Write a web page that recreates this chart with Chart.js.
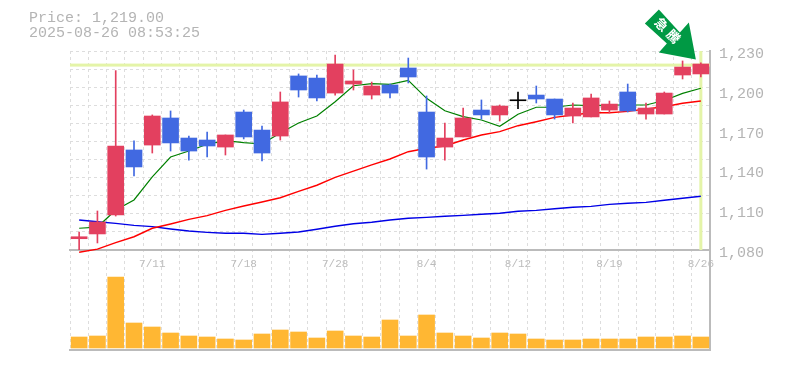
<!DOCTYPE html>
<html>
<head>
<meta charset="utf-8">
<style>
html, body { margin: 0; padding: 0; background: #fff; }
canvas { display: block; }
</style>
<script src="https://cdn.jsdelivr.net/npm/chart.js@4/dist/chart.umd.min.js"></script>
</head>
<body>
<canvas id="myChart" width="785" height="370"></canvas>
<script>
const dates = ['7/7','7/8','7/9','7/10','7/11','7/14','7/15','7/16','7/17','7/18','7/22','7/23','7/24','7/25','7/28','7/29','7/30','7/31','8/1','8/4','8/5','8/6','8/7','8/8','8/12','8/13','8/14','8/15','8/18','8/19','8/20','8/21','8/22','8/25','8/26'];
const shownDates = ['7/11','7/18','7/28','8/4','8/12','8/19','8/26'];
const priceTicks = [1230, 1200, 1170, 1140, 1110, 1080];

const opens  = [1088.5,1092.1,1106.4,1155.4,1159.1,1179.5,1164.4,1162.9,1157.6,1184,1170.4,1165.9,1211.2,1209.6,1198.3,1205.1,1196.8,1204.4,1217.2,1184,1157.6,1165.2,1185.5,1181.8,1192.5,1196.8,1193.8,1181,1180.3,1185.5,1199.1,1182.5,1182.5,1211.9,1212.7];
const closes = [1090,1101.1,1158.4,1142.6,1181,1160.7,1154.6,1158.4,1166.7,1165.2,1153.1,1191.6,1200.6,1194.6,1220.2,1207.4,1203.6,1198.3,1210.4,1150.1,1164.4,1179.5,1181.8,1188.5,1192.5,1193.8,1181.8,1187,1194.6,1190,1184.8,1187,1198.3,1217.9,1220.2];
const highs  = [1093.6,1109.4,1215.2,1162.2,1181.8,1184.8,1165.9,1168.9,1166.7,1185.5,1173.5,1199.1,1212.7,1211.9,1227,1215.7,1206.6,1205.1,1224.7,1196.1,1175.7,1187,1193.1,1189.3,1199.1,1203.6,1193.8,1190.8,1197.6,1192.3,1205.1,1190.8,1199.1,1222.5,1221];
const lows   = [1080,1085.3,1105.6,1135.8,1153.1,1154.6,1147.8,1150.1,1151.6,1163.7,1147.1,1162.9,1195.3,1192.3,1196.8,1200.6,1193.8,1194.6,1205.9,1141,1147.8,1165.2,1178.7,1177.2,1186.5,1190.8,1178.7,1175.7,1180.3,1183.3,1184,1178.7,1182.5,1208.9,1210.4];
const candleColors = ['#e3405f','#e3405f','#e3405f','#4169e1','#e3405f','#4169e1','#4169e1','#4169e1','#e3405f','#4169e1','#4169e1','#e3405f','#4169e1','#4169e1','#e3405f','#e3405f','#e3405f','#4169e1','#4169e1','#4169e1','#e3405f','#e3405f','#4169e1','#e3405f','#000000','#4169e1','#4169e1','#e3405f','#e3405f','#e3405f','#4169e1','#e3405f','#e3405f','#e3405f','#e3405f'];

const ma5  = [1096.4,1097.3,1110.1,1117.7,1135.2,1150.1,1154.6,1159.7,1162.4,1160.9,1159.9,1168.2,1175.7,1181,1191.8,1203.8,1205.4,1204.9,1207.9,1194.3,1185,1180.5,1178,1173.2,1182.3,1187.6,1187.6,1189.3,1188.8,1189.3,1189.3,1189.3,1192.7,1198.1,1201.9];
const ma25 = [1078.3,1080.7,1085.5,1090,1096.4,1099.6,1103.1,1105.9,1109.9,1113.2,1116.2,1119.4,1124.2,1128.8,1134.8,1139.5,1144.1,1148.6,1154.1,1156.7,1158.4,1162.9,1166.7,1169.2,1173.7,1176.7,1180,1181.8,1183.5,1183.5,1184.5,1186.3,1188,1190.6,1192.3];
const ma75 = [1102.6,1101.3,1100.1,1098.6,1097.6,1095.8,1094.3,1093.3,1092.6,1092.6,1091.8,1092.6,1093.6,1095.6,1097.9,1099.8,1100.9,1102.6,1103.9,1104.6,1105.4,1106.1,1106.9,1107.7,1109.2,1109.9,1111.1,1112.2,1112.9,1114.4,1115.2,1115.9,1117.5,1119,1120.5];

const volumes = [11,12,71,25,21,15,12,11,9,8,14,18,16,10,17,12,11,28,12,33,15,12,10,15,14,9,8,8,9,9,9,11,11,12,11];
const currentPrice = 1219;
const title = ['Price: 1,219.00', '2025-08-26 08:53:25'];
const badge = ['急', '騰'];

const monoFont = '"Liberation Mono", monospace';

// current price lines go under the candles
const priceLines = {
    id: 'priceLines',
    beforeDatasetsDraw(chart) {
        const { ctx, chartArea, scales } = chart;
        const y = scales.y.getPixelForValue(currentPrice);
        const x = scales.x.getPixelForValue(dates.length - 1);
        ctx.save();
        ctx.fillStyle = '#e4f4a8';
        ctx.fillRect(chartArea.left, y - 2, chartArea.width, 3);
        ctx.fillRect(x - 1.5, scales.y.top, 3, scales.y.height);
        ctx.restore();
    }
};

// title, price labels and the arrow stuck on the last candle
const overlay = {
    id: 'overlay',
    afterDraw(chart) {
        const { ctx, scales } = chart;
        ctx.save();
        ctx.fillStyle = '#b4b4b4';
        ctx.font = '15px ' + monoFont;
        ctx.textBaseline = 'middle';
        ctx.fillText(title[0], 29, 18);
        ctx.fillText(title[1], 29, 33);

        priceTicks.forEach(p => {
            const label = p.toLocaleString('en-US');
            ctx.fillText(label, scales.y.left + 9, scales.y.getPixelForValue(p) + 3);
        });

        const tipX = scales.x.getPixelForValue(dates.length - 1) - 5;
        const tipY = scales.y.getPixelForValue(currentPrice) - 6;
        const arrow = [[0,0],[-7,-37],[-16,-27],[-37,-50],[-51,-36],[-29,-16],[-37,-7]];
        ctx.fillStyle = '#009944';
        ctx.beginPath();
        arrow.forEach((p, i) => {
            if (i === 0) ctx.moveTo(tipX + p[0], tipY + p[1]);
            else ctx.lineTo(tipX + p[0], tipY + p[1]);
        });
        ctx.closePath();
        ctx.fill();

        ctx.translate(tipX - 28.3, tipY - 29.3);
        ctx.rotate(Math.PI / 4);
        ctx.fillStyle = '#ffffff';
        ctx.font = 'bold 13px "Noto Sans CJK JP"';
        ctx.textAlign = 'center';
        ctx.textBaseline = 'middle';
        ctx.fillText(badge[0], -8.5, 0);
        ctx.fillText(badge[1], 8.5, 0);
        ctx.restore();
    }
};

const candleSets = [
    { label: 'body', type: 'bar', data: opens.map((o, i) => [o, closes[i]]), backgroundColor: candleColors, barThickness: 16, minBarLength: 1, grouped: false, order: 1, yAxisID: 'y' },
    { label: 'wick', type: 'bar', data: lows.map((l, i) => [l, highs[i]]), backgroundColor: candleColors, barThickness: 1, grouped: false, order: 2, yAxisID: 'y' }
];

const lineSets = [
    { label: 'ma5', type: 'line', data: ma5, borderColor: '#008000', borderWidth: 1.2, pointRadius: 0, tension: 0, order: 3, yAxisID: 'y' },
    { label: 'ma25', type: 'line', data: ma25, borderColor: '#ff0000', borderWidth: 1.4, pointRadius: 0, tension: 0, order: 4, yAxisID: 'y', clip: false },
    { label: 'ma75', type: 'line', data: ma75, borderColor: '#0000e6', borderWidth: 1.4, pointRadius: 0, tension: 0, order: 5, yAxisID: 'y' }
];

const volumeSet = { label: 'volume', type: 'bar', data: volumes, backgroundColor: '#ffb733', barThickness: 16, grouped: false, order: 6, yAxisID: 'yVol' };

new Chart(document.getElementById('myChart').getContext('2d'), {
    data: { labels: dates, datasets: [...candleSets, ...lineSets, volumeSet] },
    plugins: [priceLines, overlay],
    options: {
        responsive: false,
        animation: false,
        events: [],
        layout: { padding: { left: 70, top: 51, right: 0, bottom: 20 } },
        plugins: { legend: { display: false }, tooltip: { enabled: false } },
        scales: {
            x: {
                position: { y: 1080 },
                offset: true,
                grid: { offset: true, color: '#dddddd', drawTicks: false, tickLength: 0 },
                border: { display: true, color: '#bbbbbb', width: 2, dash: [3, 3] },
                ticks: {
                    autoSkip: false,
                    maxRotation: 0,
                    padding: 7,
                    color: '#bcbcbc',
                    font: { family: monoFont, size: 11 },
                    callback(value) {
                        const d = this.getLabelForValue(value);
                        return shownDates.includes(d) ? d : '';
                    }
                }
            },
            xBottom: {
                position: 'bottom',
                offset: true,
                grid: { display: false },
                border: { display: true, color: '#bbbbbb', width: 2 },
                ticks: { display: false },
                afterFit(scale) { scale.height = 0; }
            },
            y: {
                position: 'right',
                stack: 'panels',
                stackWeight: 199,
                min: 1080,
                max: 1230,
                grid: { color: '#dddddd', drawTicks: false },
                border: { display: true, color: '#bbbbbb', width: 2, dash: [3, 3] },
                ticks: { display: false, count: 12 },
                afterFit(scale) { scale.width = 75; }
            },
            yVol: {
                position: 'right',
                stack: 'panels',
                stackWeight: 100,
                min: -2,
                max: 98,
                grid: { display: false },
                border: { display: true, color: '#bbbbbb', width: 2 },
                ticks: { display: false },
                afterFit(scale) { scale.width = 75; }
            }
        }
    }
});
</script>
</body>
</html>
